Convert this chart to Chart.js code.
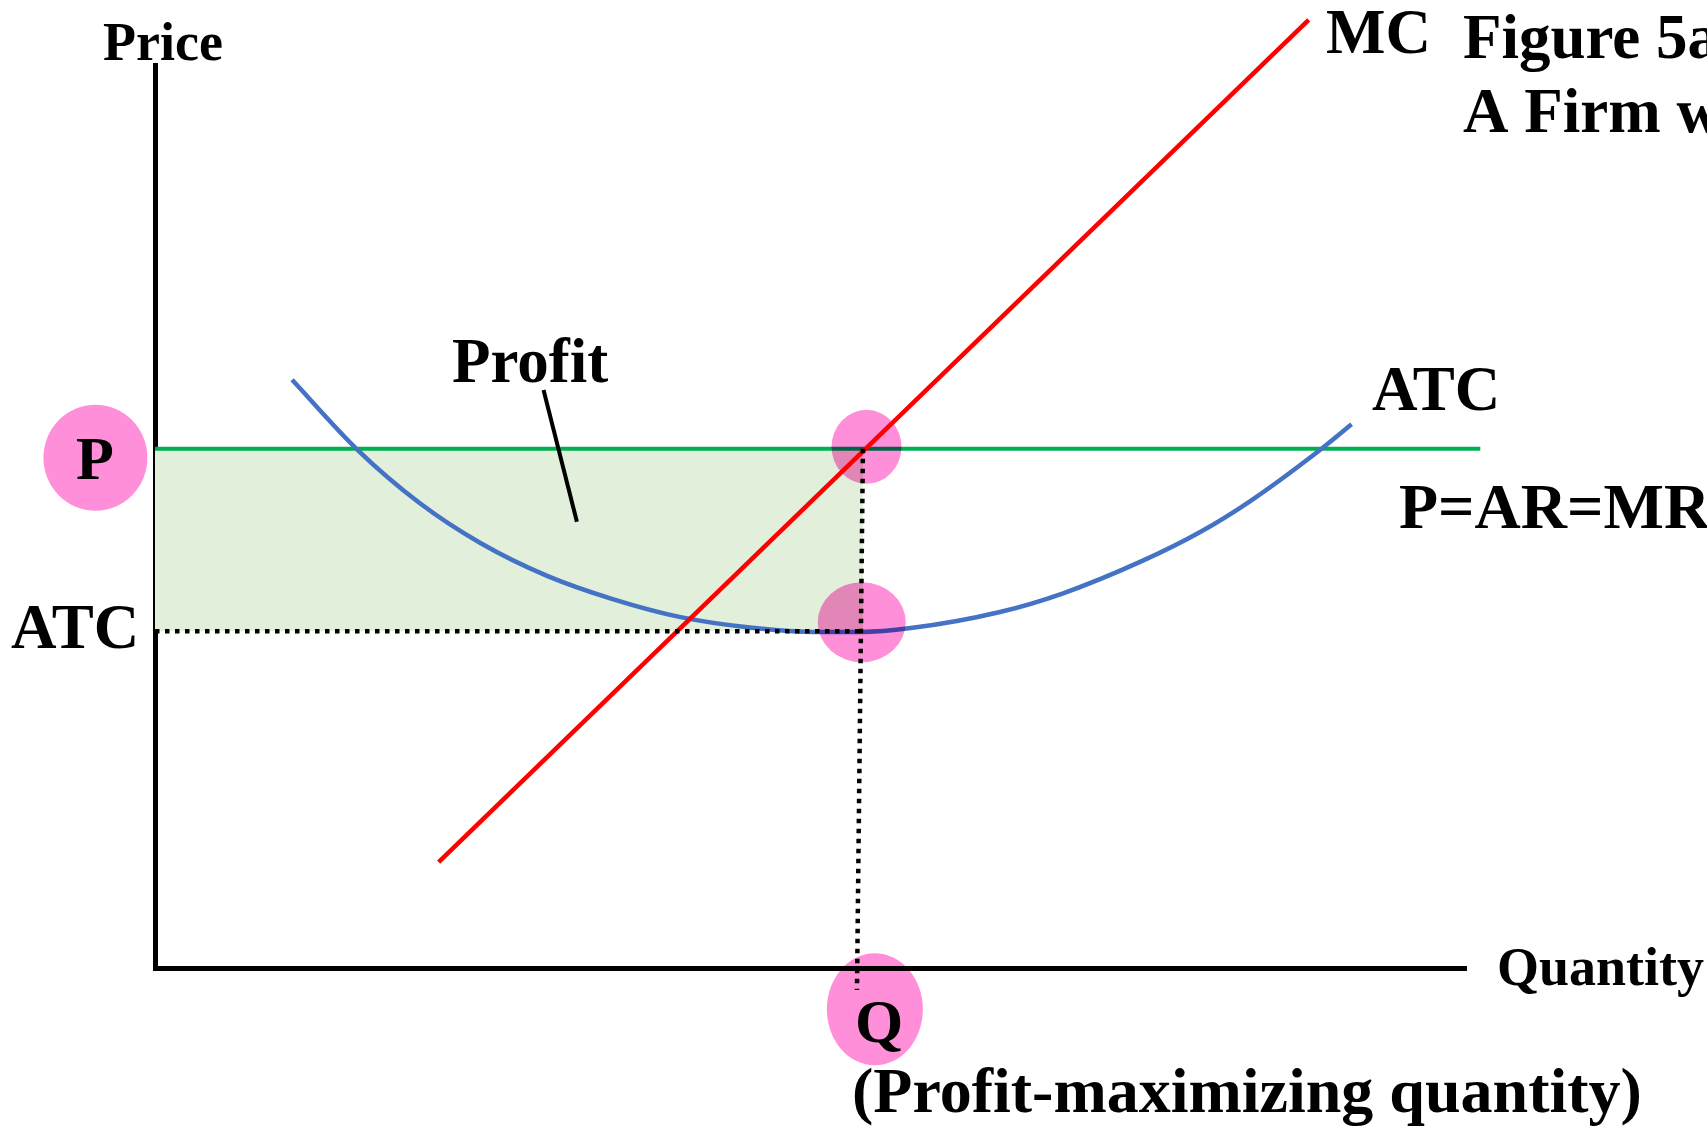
<!DOCTYPE html>
<html lang="en">
<head>
  <meta charset="UTF-8" />
  <title>Figure 5a</title>
  <script src="https://cdn.jsdelivr.net/npm/chart.js"></script>
  <style>
    body {
      margin: 0;
      background: #ffffff;
    }
    #wrap {
      width: 1707px;
      height: 1137px;
      overflow: hidden;
    }
  </style>
</head>
<body>
  <div id="wrap">
    <canvas id="firmChart" width="1707" height="1137"></canvas>
  </div>

  <script>
// values (quantity on x, price/cost on y)
const qStar = 5.94;        // profit-maximizing quantity
const price = 8.05;        // P = AR = MR
const atcAtQ = 5.22;       // ATC at Q
const priceLineEnd = 11.12;
const qLineBottom = [5.89, -0.34];

const mcQty = [2.38, 9.68];
const mcCost = [1.64, 14.70];

const atcQty = [1.15, 1.69, 2.22, 2.73, 3.29, 3.84, 4.41, 4.99, 5.58, 5.92, 6.34, 7.09, 7.62, 8.27, 8.77, 9.19, 9.78, 10.04];
const atcCost = [9.12, 8.05, 7.21, 6.59, 6.08, 5.72, 5.44, 5.28, 5.21, 5.21, 5.27, 5.52, 5.81, 6.30, 6.76, 7.24, 8.04, 8.43];

const pointerQty = [3.26, 3.54];
const pointerCost = [8.96, 6.92];

// pink marker spots
const spotQty = [-0.50, 5.97, 5.93, 6.04];
const spotCost = [7.91, 8.08, 5.36, -0.64];
const spotSize = [[52, 53], [35, 37], [44, 40], [48, 56]];

const toPoints = (xs, ys) => xs.map((x, i) => ({ x: x, y: ys[i] }));

const serif = '"Liberation Serif", "Times New Roman", serif';
const labels = [
  { text: 'Price', x: 103, y: 60, size: 54 },
  { text: 'MC', x: 1326, y: 53, size: 63 },
  { text: 'Figure 5a', x: 1463, y: 58, size: 63 },
  { text: 'A Firm with Profits', x: 1463, y: 132, size: 63 },
  { text: 'Profit', x: 452, y: 382, size: 63 },
  { text: 'ATC', x: 1372, y: 410, size: 63 },
  { text: 'P=AR=MR', x: 1399, y: 528, size: 64 },
  { text: 'P', x: 76, y: 479, size: 62 },
  { text: 'ATC', x: 11, y: 648, size: 63 },
  { text: 'Quantity', x: 1497, y: 985, size: 54 },
  { text: 'Q', x: 855, y: 1042, size: 62 },
  { text: '(Profit-maximizing quantity)', x: 852, y: 1112, size: 64 }
];

const overlayPlugin = {
  id: 'overlay',
  afterDatasetsDraw(chart) {
    const ctx = chart.ctx;
    const xs = chart.scales.x, ys = chart.scales.y;
    // highlight spots, blended like a highlighter pen
    ctx.save();
    ctx.globalCompositeOperation = 'multiply';
    ctx.fillStyle = 'rgb(255,143,216)';
    spotQty.forEach((q, i) => {
      ctx.beginPath();
      ctx.ellipse(xs.getPixelForValue(q), ys.getPixelForValue(spotCost[i]),
        spotSize[i][0], spotSize[i][1], 0, 0, Math.PI * 2);
      ctx.fill();
    });
    ctx.restore();

    ctx.save();
    ctx.fillStyle = '#000000';
    ctx.textBaseline = 'alphabetic';
    ctx.textAlign = 'left';
    labels.forEach(l => {
      ctx.font = `bold ${l.size}px ${serif}`;
      ctx.fillText(l.text, l.x, l.y);
    });
    ctx.restore();
  }
};

const lineBase = { showLine: true, pointRadius: 0, clip: false, fill: false, tension: 0 };

const ctx = document.getElementById('firmChart').getContext('2d');
const firmChart = new Chart(ctx, {
  type: 'scatter',
  data: {
    datasets: [
      {
        ...lineBase, label: 'profit area', order: 9,
        data: toPoints([0, qStar], [price, price]),
        borderWidth: 0,
        fill: { value: atcAtQ },
        backgroundColor: '#e2efda'
      },
      {
        ...lineBase, label: 'P=AR=MR', order: 8,
        data: toPoints([0, priceLineEnd], [price, price]),
        borderColor: '#00b050', borderWidth: 4
      },
      {
        ...lineBase, label: 'ATC', order: 7,
        data: toPoints(atcQty, atcCost),
        borderColor: '#4472c4', borderWidth: 4.5,
        cubicInterpolationMode: 'monotone'
      },
      {
        ...lineBase, label: 'MC', order: 6,
        data: toPoints(mcQty, mcCost),
        borderColor: '#ff0000', borderWidth: 4.5
      },
      {
        ...lineBase, label: 'pointer', order: 5,
        data: toPoints(pointerQty, pointerCost),
        borderColor: '#000000', borderWidth: 4
      },
      {
        ...lineBase, label: 'ATC level', order: 4,
        data: toPoints([0, qStar], [atcAtQ, atcAtQ]),
        borderColor: '#000000', borderWidth: 4.5,
        borderDash: [4.5, 5.5]
      },
      {
        ...lineBase, label: 'Q level', order: 3,
        data: toPoints([qStar, qLineBottom[0]], [price, qLineBottom[1]]),
        borderColor: '#000000', borderWidth: 4.5,
        borderDash: [4.5, 5.5]
      }
    ]
  },
  options: {
    responsive: false,
    animation: false,
    events: [],
    layout: { padding: { left: 155, top: 65, right: 241, bottom: 169 } },
    plugins: {
      legend: { display: false },
      tooltip: { enabled: false },
      title: { display: false }
    },
    scales: {
      x: {
        type: 'linear', min: 0, max: 11,
        ticks: { display: false },
        grid: { display: false, drawTicks: false },
        border: { display: true, color: '#000000', width: 5 }
      },
      y: {
        type: 'linear', min: 0, max: 14,
        ticks: { display: false },
        grid: { display: false, drawTicks: false },
        border: { display: true, color: '#000000', width: 5 }
      }
    }
  },
  plugins: [overlayPlugin]
});
  </script>
</body>
</html>
